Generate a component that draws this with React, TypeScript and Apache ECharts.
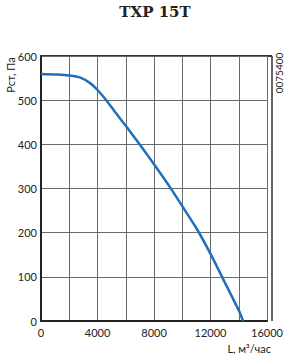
import React, { useEffect, useRef } from "react";
import * as echarts from "echarts";

const flow = [0, 1000, 2000, 2800, 3500, 4000, 4620, 5200, 6000, 7000, 8000, 9150, 10000, 11000, 12000, 13000, 14000, 14300];
const pressure = [559, 558, 556, 551, 538, 523, 500, 475, 442, 399, 355, 302, 260, 210, 152, 88, 24, 0];
const title = "TXP 15T";
const yName = "Рст, Па";
const xName = "L, м³/час";
const code = "0075400";

export default function App() {
  const ref = useRef<HTMLDivElement>(null);
  useEffect(() => {
    const chart = echarts.init(ref.current!, null, { renderer: "svg" });
    const sans = "Lato, 'Open Sans', sans-serif";
    chart.setOption({
      animation: false,
      grid: { left: 41, right: 14, top: 56, bottom: 34, show: false },
      xAxis: {
        type: "value",
        min: 0,
        max: 16000,
        interval: 2000,
        axisLine: { show: true, lineStyle: { color: "#222", width: 2 } },
        axisTick: { show: false },
        splitLine: { show: true, lineStyle: { color: "#6a6a6a", width: 1 } },
        axisLabel: {
          color: "#222",
          fontFamily: sans,
          fontSize: 11,
          margin: 6,
          formatter: (v: number) => (v % 4000 === 0 ? String(v) : ""),
        },
      },
      yAxis: {
        type: "value",
        min: 0,
        max: 600,
        interval: 100,
        axisLine: { show: true, lineStyle: { color: "#222", width: 2 } },
        axisTick: { show: false },
        splitLine: { show: true, lineStyle: { color: "#6a6a6a", width: 1 } },
        axisLabel: { color: "#222", fontFamily: sans, fontSize: 11, margin: 4 },
      },
      graphic: [
        {
          type: "text",
          x: 155,
          y: 12,
          style: {
            text: title,
            fill: "#222",
            font: "bold 15px 'DejaVu Serif', serif",
            textAlign: "center",
            textVerticalAlign: "middle",
          },
        },
        {
          type: "text",
          x: 10,
          y: 75,
          rotation: Math.PI / 2,
          style: {
            text: yName,
            fill: "#222",
            font: "11px " + sans,
            textAlign: "center",
            textVerticalAlign: "middle",
          },
        },
        {
          type: "text",
          x: 279,
          y: 73,
          rotation: Math.PI / 2,
          style: {
            text: code,
            fill: "#222",
            font: "10px " + sans,
            textAlign: "center",
            textVerticalAlign: "middle",
          },
        },
        {
          type: "text",
          x: 271,
          y: 348,
          style: {
            text: xName,
            fill: "#222",
            font: "11px " + sans,
            textAlign: "right",
            textVerticalAlign: "middle",
          },
        },
        {
          type: "line",
          shape: { x1: 41, y1: 56, x2: 272, y2: 56 },
          style: { stroke: "#333", lineWidth: 2 },
        },
        {
          type: "line",
          shape: { x1: 272, y1: 56, x2: 272, y2: 321 },
          style: { stroke: "#333", lineWidth: 1.5 },
        },
      ],
      series: [
        {
          type: "line",
          data: flow.map((f, i) => [f, pressure[i]]),
          smooth: 0.25,
          showSymbol: false,
          lineStyle: { color: "#1f6fbd", width: 2.5 },
        },
      ],
    });
    return () => chart.dispose();
  }, []);
  return <div ref={ref} style={{ width: 286, height: 355, position: "absolute", left: 0, top: 0 }} />;
}
